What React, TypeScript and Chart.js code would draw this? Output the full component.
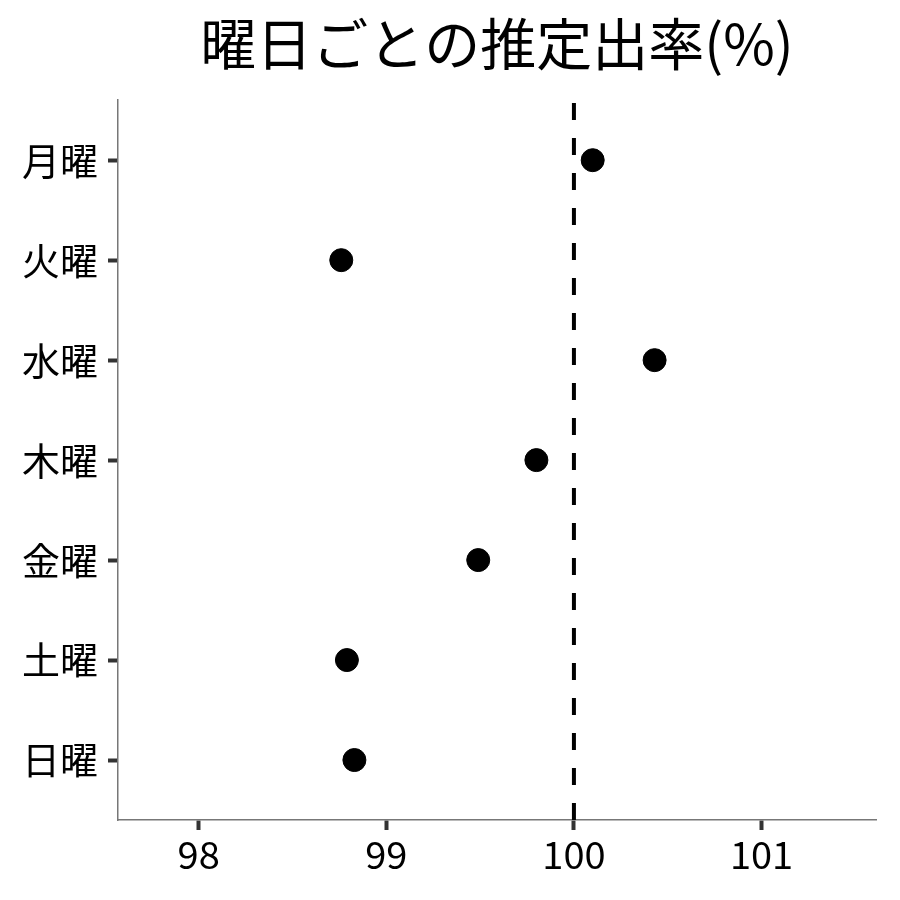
import React, { useEffect, useRef } from "react";
import { Chart, registerables } from "chart.js";

Chart.register(...registerables);

const days = ["月曜", "火曜", "水曜", "木曜", "金曜", "土曜", "日曜"];
const rates = [100.1, 98.76, 100.43, 99.8, 99.49, 98.79, 98.83];
const xTicks = [98, 99, 100, 101];
const refValue = 100;

const FONT = "'Noto Sans CJK JP', 'Noto Sans', sans-serif";

const App: React.FC = () => {
  const chartRef = useRef<HTMLCanvasElement>(null);
  const chartInstance = useRef<Chart | null>(null);

  useEffect(() => {
    if (!chartRef.current) return;
    const ctx = chartRef.current.getContext("2d");
    if (!ctx) return;

    chartInstance.current = new Chart(ctx, {
      type: "scatter",
      data: {
        datasets: [
          {
            // reference line, drawn bottom-up so the dash pattern starts at the axis
            type: "line",
            data: [
              { x: refValue, y: days.length - 0.4 },
              { x: refValue, y: -0.6 },
            ],
            borderColor: "#000",
            borderWidth: 4,
            borderDash: [17, 18],
            pointRadius: 0,
            fill: false,
          },
          {
            data: rates.map((v, i) => ({ x: v, y: i })),
            backgroundColor: "#000",
            borderColor: "#000",
            pointRadius: 11.5,
            pointHoverRadius: 11.5,
          },
        ],
      },
      options: {
        animation: false,
        responsive: true,
        maintainAspectRatio: false,
        layout: { padding: { left: 0, right: 24, top: 0, bottom: 0 } },
        plugins: {
          legend: { display: false },
          tooltip: { enabled: false },
          title: {
            display: true,
            text: "曜日ごとの推定出率(%)",
            fullSize: false,
            color: "#000",
            font: { family: FONT, size: 56, weight: "normal" },
            padding: { top: 10, bottom: 23 },
          },
        },
        scales: {
          x: {
            type: "linear",
            min: 97.57,
            max: 101.61,
            afterBuildTicks: (scale: any) => {
              scale.ticks = xTicks.map((v) => ({ value: v }));
            },
            afterFit: (scale: any) => {
              scale.height = 80;
            },
            grid: {
              drawOnChartArea: false,
              drawTicks: true,
              tickLength: 10,
              tickWidth: 4,
              tickColor: "#333",
            },
            border: { display: true, color: "#777", width: 1.5 },
            ticks: {
              color: "#000",
              padding: 2,
              maxRotation: 0,
              font: { family: FONT, size: 38 },
            },
          },
          y: {
            type: "linear",
            reverse: true,
            min: -0.6,
            max: days.length - 0.4,
            afterBuildTicks: (scale: any) => {
              scale.ticks = days.map((_, i) => ({ value: i }));
            },
            afterFit: (scale: any) => {
              scale.width = 118;
            },
            grid: {
              drawOnChartArea: false,
              drawTicks: true,
              tickLength: 10,
              tickWidth: 4,
              tickColor: "#333",
            },
            border: { display: true, color: "#777", width: 1.5 },
            ticks: {
              color: "#000",
              padding: 10,
              font: { family: FONT, size: 38 },
              callback: (value: any) => days[Math.round(Number(value))] ?? "",
            },
          },
        },
      },
    });

    return () => {
      if (chartInstance.current) {
        chartInstance.current.destroy();
        chartInstance.current = null;
      }
    };
  }, []);

  return (
    <div
      style={{
        position: "absolute",
        left: 0,
        top: 0,
        width: 900,
        height: 900,
        background: "#fff",
      }}
    >
      <canvas ref={chartRef}></canvas>
    </div>
  );
};

export default App;
